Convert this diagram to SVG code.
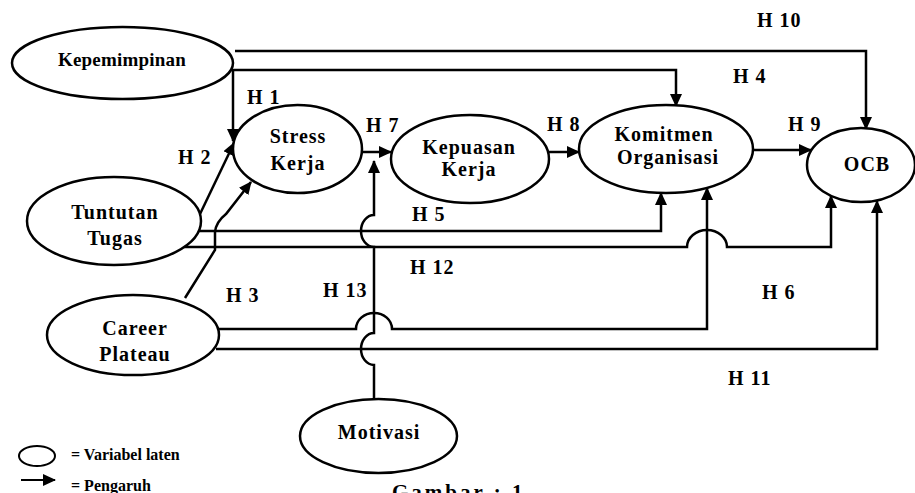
<svg xmlns="http://www.w3.org/2000/svg" width="915" height="493" viewBox="0 0 915 493">
<style>
.n{fill:#fff;stroke:#000;stroke-width:2.5}
.t{font-family:"Liberation Serif","Times New Roman",serif;font-weight:bold;font-size:20px;letter-spacing:1px;text-anchor:middle;fill:#000}
.h{font-family:"Liberation Serif","Times New Roman",serif;font-weight:bold;font-size:20px;letter-spacing:1px;fill:#000}
.c{fill:none;stroke:#000;stroke-width:2.5}
.a{marker-end:url(#arr)}
.lg{font-family:"Liberation Serif","Times New Roman",serif;font-weight:bold;font-size:16px;fill:#000}
</style>
<defs>
<marker id="arr" markerUnits="userSpaceOnUse" markerWidth="13" markerHeight="12" viewBox="0 0 13 12" refX="12" refY="6" orient="auto">
<path d="M0,0 L13,6 L0,12 z" fill="#000"/>
</marker>
</defs>
<g id="connectors">
<path class="c a" d="M235,51 H866 V129"/>
<path class="c a" d="M232,70 H676 V106"/>
<path class="c a" d="M233,70 V141"/>
<path class="c a" d="M200,214 L234,143"/>
<path class="c a" d="M185,298 L215,250 L215,232 Q216,222 226,214 L251,182"/>
<path class="c a" d="M362,152 H391"/>
<path class="c a" d="M548,152 H579"/>
<path class="c a" d="M753,150 H811"/>
<path class="c a" d="M199,231 H661 V193"/>
<path class="c a" d="M184,247 H687 A20,17 0 0 1 727,247 H831 V196"/>
<path class="c a" d="M218,329 H356 A18,16 0 0 1 392,329 H707 V188"/>
<path class="c a" d="M216,349 H877 V201"/>
<path class="c a" d="M374,399 V365 A13,16 0 0 1 374,333 V247 A13,16 0 0 1 374,215 V161"/>
</g>
<g id="kepemimpinan"><ellipse class="n" cx="122.5" cy="63" rx="110.5" ry="36"/><text class="t" x="122" y="66" style="font-size:19px;letter-spacing:0.2px">Kepemimpinan</text></g>
<g id="stress"><ellipse class="n" cx="297.5" cy="149" rx="64.5" ry="44"/><text class="t" x="298" y="143">Stress</text><text class="t" x="298" y="170">Kerja</text></g>
<g id="kepuasan"><ellipse class="n" cx="470" cy="159" rx="79" ry="44"/><text class="t" x="469" y="154">Kepuasan</text><text class="t" x="469" y="176">Kerja</text></g>
<g id="komitmen"><ellipse class="n" cx="666" cy="149" rx="87" ry="44"/><text class="t" x="664" y="141">Komitmen</text><text class="t" x="668" y="164">Organisasi</text></g>
<g id="ocb"><ellipse class="n" cx="861" cy="165" rx="54" ry="37"/><text class="t" x="867" y="171">OCB</text></g>
<g id="tuntutan"><ellipse class="n" cx="114" cy="221" rx="87" ry="44"/><text class="t" x="115" y="219">Tuntutan</text><text class="t" x="115" y="245">Tugas</text></g>
<g id="career"><ellipse class="n" cx="133" cy="335" rx="86" ry="40"/><text class="t" x="135" y="335">Career</text><text class="t" x="135" y="361">Plateau</text></g>
<g id="motivasi"><ellipse class="n" cx="378.5" cy="436" rx="78.5" ry="37"/><text class="t" x="379" y="439">Motivasi</text></g>
<g id="labels">
<text class="h" x="757" y="27">H 10</text>
<text class="h" x="733" y="83">H 4</text>
<text class="h" x="247" y="104">H 1</text>
<text class="h" x="366" y="132">H 7</text>
<text class="h" x="547" y="131">H 8</text>
<text class="h" x="788" y="131">H 9</text>
<text class="h" x="178" y="164">H 2</text>
<text class="h" x="412" y="221">H 5</text>
<text class="h" x="410" y="274">H 12</text>
<text class="h" x="226" y="302">H 3</text>
<text class="h" x="323" y="297">H 13</text>
<text class="h" x="762" y="299">H 6</text>
<text class="h" x="728" y="385">H 11</text>
</g>
<g id="legend">
<ellipse class="n" cx="37" cy="456" rx="18" ry="10" style="stroke-width:2"/>
<text class="lg" x="71" y="460">=  Variabel laten</text>
<path class="c a" d="M21,480 H55" style="stroke-width:2"/>
<text class="lg" x="71" y="491">=  Pengaruh</text>
</g>
<text class="h" x="392" y="499" style="font-size:21px;letter-spacing:3px">Gambar : 1</text>
</svg>
